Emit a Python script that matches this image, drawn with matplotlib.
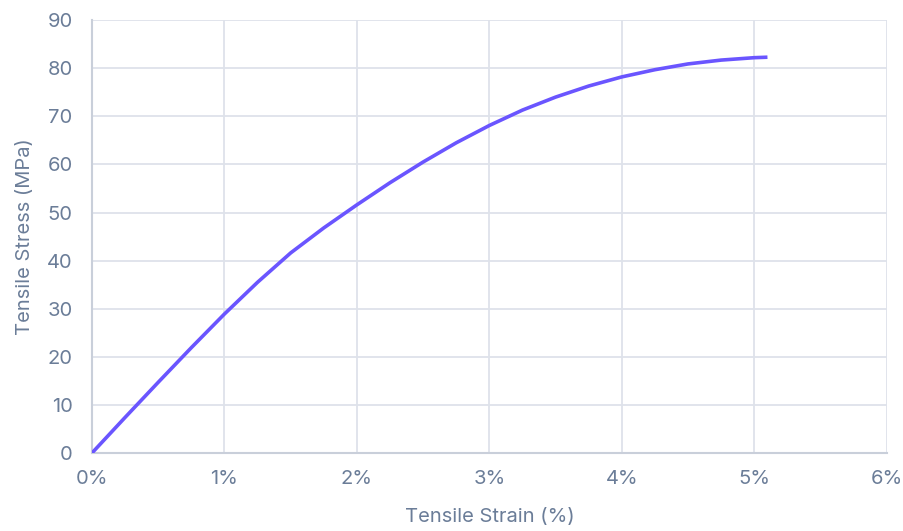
"""
Tensile stress-strain curve
"""
import matplotlib.pyplot as plt
import matplotlib as mpl
from matplotlib.ticker import FuncFormatter

mpl.rcParams["font.family"] = ["Inter", "DejaVu Sans"]

LINE = "#6A55FF"
GRID = "#DEE2EA"
SPINE = "#C9CFDA"
TEXT = "#6B7D98"

# strain (%) vs stress (MPa)
strain = [0, 0.25, 0.5, 0.75, 1.0, 1.25, 1.5, 1.75, 2.0, 2.25, 2.5,
          2.75, 3.0, 3.25, 3.5, 3.75, 4.0, 4.25, 4.5, 4.75, 5.0, 5.1]
stress = [0, 7.4, 14.7, 21.9, 28.9, 35.5, 41.6, 46.8, 51.6, 56.2, 60.5,
          64.5, 68.1, 71.3, 74.0, 76.3, 78.2, 79.7, 80.9, 81.7, 82.2, 82.3]

x_ticks = [0, 1, 2, 3, 4, 5, 6]
y_ticks = [0, 10, 20, 30, 40, 50, 60, 70, 80, 90]

fig = plt.figure(figsize=(9.04, 5.31), dpi=100)
ax = fig.add_axes([0.1018, 0.147, 0.879, 0.815])

ax.plot(strain, stress, color=LINE, linewidth=2.6, solid_capstyle="butt", zorder=3)

ax.set_xlim(0, 6)
ax.set_ylim(0, 90)
ax.set_xticks(x_ticks)
ax.set_yticks(y_ticks)
ax.xaxis.set_major_formatter(FuncFormatter(lambda v, _: f"{v:.0f}%"))

ax.grid(True, color=GRID, linewidth=1.3, zorder=0)
ax.tick_params(length=0, labelsize=14.5, labelcolor=TEXT)
ax.tick_params(axis="x", pad=12)
ax.tick_params(axis="y", pad=14)
for s in ("top", "right"):
    ax.spines[s].set_visible(False)
for s in ("left", "bottom"):
    ax.spines[s].set_color(SPINE)
    ax.spines[s].set_linewidth(1.5)

ax.set_xlabel("Tensile Strain (%)", fontsize=14.5, color=TEXT, labelpad=15)
ax.set_ylabel("Tensile Stress (MPa)", fontsize=14.5, color=TEXT, labelpad=9)

fig.savefig("out.png", dpi=100, facecolor="white")
